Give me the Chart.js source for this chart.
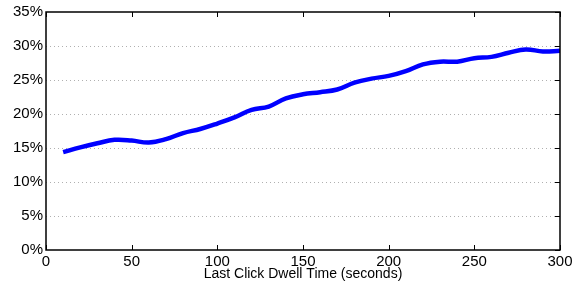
<!DOCTYPE html>
<html>
<head>
<meta charset="utf-8">
<script src="https://cdn.jsdelivr.net/npm/chart.js@4/dist/chart.umd.min.js"></script>
<style>
  html, body { margin: 0; padding: 0; background: #fff; }
  #wrap { width: 582px; height: 287px; }
</style>
</head>
<body>
<div id="wrap"><canvas id="c" width="582" height="287"></canvas></div>
<script>
// dwell time (s) and share (%)
const dwellTime = [10, 20, 30, 40, 50, 60, 70, 80, 90, 100, 110, 120, 130, 140, 150,
  160, 170, 180, 190, 200, 210, 220, 230, 240, 250, 260, 270, 280, 290, 300];
const share = [14.4, 15.1, 15.7, 16.2, 16.1, 15.8, 16.3, 17.2, 17.8, 18.6, 19.5, 20.6, 21.1, 22.3, 22.9,
  23.2, 23.6, 24.6, 25.2, 25.6, 26.3, 27.3, 27.7, 27.7, 28.2, 28.4, 29.0, 29.5, 29.2, 29.3];
const xTicks = [0, 50, 100, 150, 200, 250, 300];
const yTicks = [0, 5, 10, 15, 20, 25, 30, 35];

const FONT = 'Liberation Sans, Arial, sans-serif';

// dotted horizontal grid
const dotGrid = {
  id: 'dotGrid',
  beforeDatasetsDraw(chart) {
    const { ctx, chartArea: a, scales } = chart;
    ctx.save();
    ctx.strokeStyle = '#b0b0b0';
    ctx.setLineDash([1, 3]);
    ctx.lineWidth = 1;
    ctx.beginPath();
    yTicks.slice(1, -1).forEach(v => {
      const py = Math.round(scales.y.getPixelForValue(v)) + 0.5;
      ctx.moveTo(a.left, py); ctx.lineTo(a.right, py);
    });
    ctx.stroke();
    ctx.restore();
  }
};

// matlab-like box with inward ticks
const boxPlugin = {
  id: 'box',
  afterDraw(chart) {
    const { ctx, chartArea: a, scales } = chart;
    ctx.save();
    ctx.strokeStyle = '#000';
    ctx.lineWidth = 1;
    ctx.beginPath();
    xTicks.forEach(v => {
      const px = Math.round(scales.x.getPixelForValue(v)) + 0.5;
      ctx.moveTo(px, a.bottom); ctx.lineTo(px, a.bottom - 5);
      ctx.moveTo(px, a.top); ctx.lineTo(px, a.top + 5);
    });
    yTicks.forEach(v => {
      const py = Math.round(scales.y.getPixelForValue(v)) + 0.5;
      ctx.moveTo(a.right, py); ctx.lineTo(a.right - 5, py);
    });
    ctx.stroke();
    ctx.lineWidth = 1.5;
    ctx.strokeRect(a.left, a.top, a.right - a.left, a.bottom - a.top);
    ctx.restore();
  }
};

new Chart(document.getElementById('c'), {
  type: 'line',
  data: {
    datasets: [{
      data: dwellTime.map((t, i) => ({ x: t, y: share[i] })),
      borderColor: '#0000ff',
      borderWidth: 4.5,
      pointRadius: 0,
      tension: 0.4,
      fill: false,
    }],
  },
  options: {
    responsive: false,
    animation: false,
    layout: { padding: { top: 12, right: 22, left: 0, bottom: 0 } },
    plugins: { legend: { display: false }, tooltip: { enabled: false } },
    scales: {
      x: {
        type: 'linear',
        min: 0, max: 300,
        afterBuildTicks(scale) { scale.ticks = xTicks.map(v => ({ value: v })); },
        afterFit(scale) { scale.height = 37; },
        grid: { display: false, drawTicks: false },
        border: { display: false },
        ticks: { color: '#000', font: { family: FONT, size: 15 }, padding: 3, maxRotation: 0 },
        title: {
          display: true,
          text: 'Last Click Dwell Time (seconds)',
          color: '#000',
          font: { family: FONT, size: 14 },
          padding: { top: 0, bottom: 4 },
        },
      },
      y: {
        min: 0, max: 35,
        afterBuildTicks(scale) { scale.ticks = yTicks.map(v => ({ value: v })); },
        afterFit(scale) { scale.width = 46; },
        grid: { display: false, drawTicks: false },
        border: { display: false },
        ticks: {
          color: '#000', font: { family: FONT, size: 15 }, padding: 3,
          callback: v => v + '%',
        },
      },
    },
  },
  plugins: [dotGrid, boxPlugin],
});
</script>
</body>
</html>
